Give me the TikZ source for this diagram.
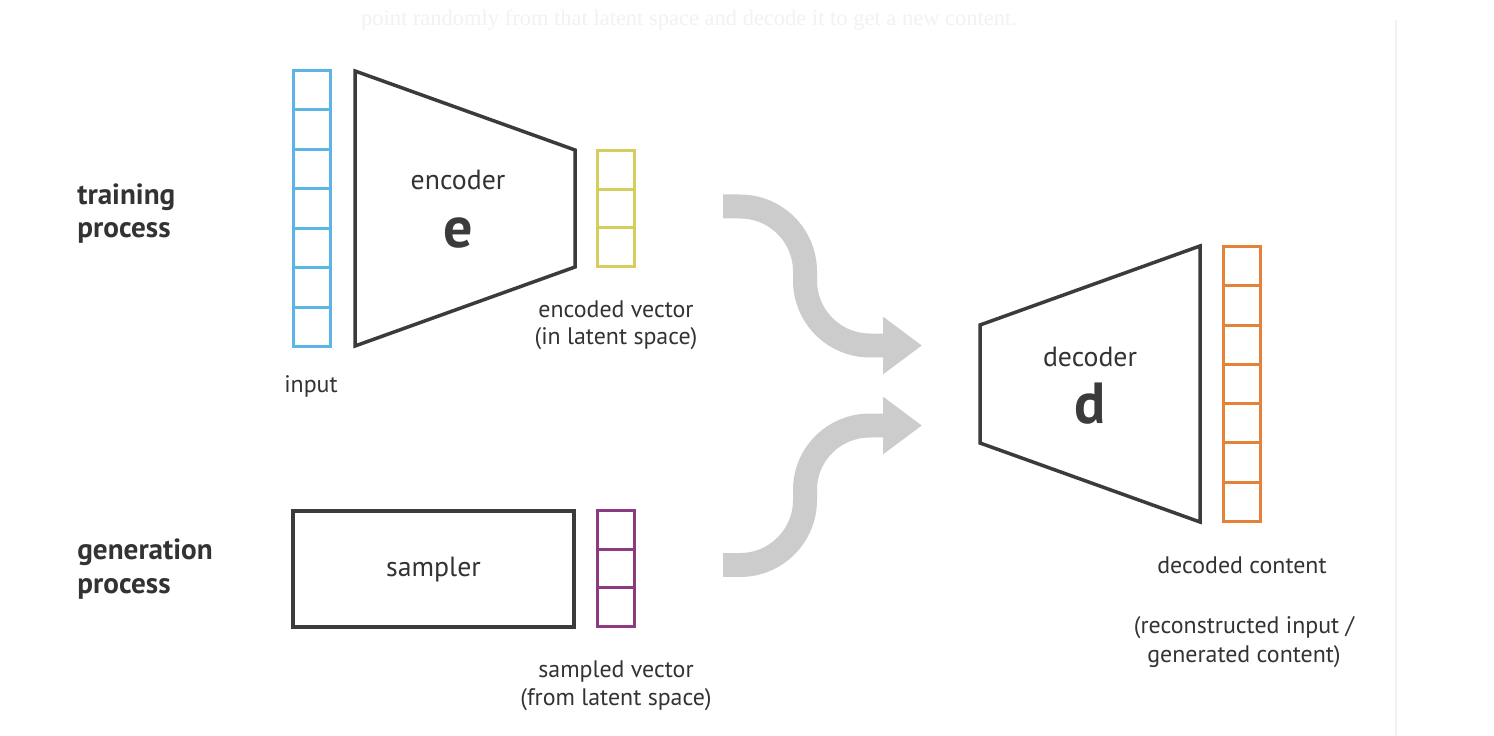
\documentclass[tikz,border=0pt]{standalone}
\usepackage{fontspec}
\setmainfont{PT Sans}
\newfontfamily\faintserif{Liberation Serif}
\usetikzlibrary{positioning, calc, arrows.meta}

\definecolor{ink}{HTML}{3B3B3B}
\definecolor{txt}{HTML}{333333}
\definecolor{inblue}{HTML}{5DB5E5}
\definecolor{latyellow}{HTML}{D5CE5E}
\definecolor{smppurple}{HTML}{8E3A80}
\definecolor{outorange}{HTML}{E5823A}
\definecolor{flowgray}{HTML}{CCCCCC}
\definecolor{faint}{HTML}{F2F2F2}

\begin{document}
\begin{tikzpicture}[x=0.02cm, y=-0.02cm,
  block/.style={draw=ink, line width=0.07cm, outer sep=0pt},
  vec/.style={draw=#1, line width=0.06cm, minimum width=0.74cm, inner sep=0pt, outer sep=0pt},
  lbl/.style={text=txt, font=\fontsize{13.6}{15.9}\selectfont, align=center, anchor=base},
  inner/.style={text=txt, font=\fontsize{15.8}{18}\selectfont, anchor=base},
  head/.style={text=txt, font=\bfseries\fontsize{16.6}{18.8}\selectfont, align=left, anchor=base west, inner sep=0pt},
  big/.style={text=ink, font=\bfseries\fontsize{33}{36}\selectfont, anchor=base},
  flow/.style={draw=flowgray, line width=0.48cm, -{Triangle[length=0.78cm, width=1.1cm]}}]
  \fill[white] (0,0) rectangle (1494,736);
  \useasboundingbox (0,0) rectangle (1494,736);

  % faint page leftovers
  \draw[faint, line width=0.03cm] (1396,20) -- (1396,736);
  \node[font=\faintserif\fontsize{12.8}{13}\selectfont, text=faint, anchor=base] (note) at (689,26)
    {point randomly from that latent space and decode it to get a new content.};

  % row titles (base = last line)
  \node[head] (train) at (77,238) {training\\process};
  \node[head] (gen) at (77,593) {generation\\process};

  % vectors
  \node[vec=inblue, minimum height=5.52cm] (in) at (311.5,208.5) {};
  \node[vec=latyellow, minimum height=2.32cm] (lat) at (616,208.5) {};
  \node[vec=smppurple, minimum height=2.32cm] (smp) at (616,568.5) {};
  \node[vec=outorange, minimum height=5.5cm] (out) at (1242,384) {};
  \foreach \v/\n/\c in {in/7/inblue, lat/3/latyellow, smp/3/smppurple, out/7/outorange}
    \foreach \k in {2,...,\n}
      \draw[\c, line width=0.06cm] ($(\v.north west)!{(\k-1)/\n}!(\v.south west)$)
        -- ($(\v.north east)!{(\k-1)/\n}!(\v.south east)$);

  % encoder and decoder
  \draw[block] (355,71) -- (575,150) -- (575,267) -- (355,346) -- cycle;
  \node[inner] (enctxt) at (458,190) {encoder};
  \node[big] (e) at (458,248) {e};
  \draw[block] (980,325) -- (1200,246) -- (1200,522) -- (980,443) -- cycle;
  \node[inner] (dectxt) at (1090,367) {decoder};
  \node[big] (d) at (1090,423) {d};

  % sampler
  \node[block, minimum width=5.62cm, minimum height=2.32cm] (smpl) at (433.5,569) {};
  \node[inner] (smptxt) at (433.5,576) {sampler};

  % captions
  \node[lbl] (inlbl) at (311,393) {input};
  \node[lbl] (latlbl) at (616,345) {encoded vector\\(in latent space)};
  \node[lbl] (smplbl) at (616,705) {sampled vector\\(from latent space)};
  \node[lbl] (outlbl) at (1242,573) {decoded content};
  \node[lbl, font=\fontsize{13.6}{16.5}\selectfont] (outnote) at (1244,662)
    {(reconstructed input /\\generated content)};

  % flows into the decoder
  \coordinate (t0) at (723,206.5);
  \coordinate (t1) at (922,345.5);
  \coordinate (b0) at (723,565);
  \coordinate (b1) at (922,425.5);
  \draw[flow] (t0) -- (740,206.5) .. controls (776,206.5) and (805,235.6) .. (805,271.5)
    -- (805,280.5) .. controls (805,316.4) and (834,345.5) .. (870,345.5) -- (t1);
  \draw[flow] (b0) -- (740,565) .. controls (776,565) and (805,535.9) .. (805,500)
    -- (805,490) .. controls (805,454.1) and (834,425.5) .. (870,425.5) -- (b1);
\end{tikzpicture}
\end{document}
